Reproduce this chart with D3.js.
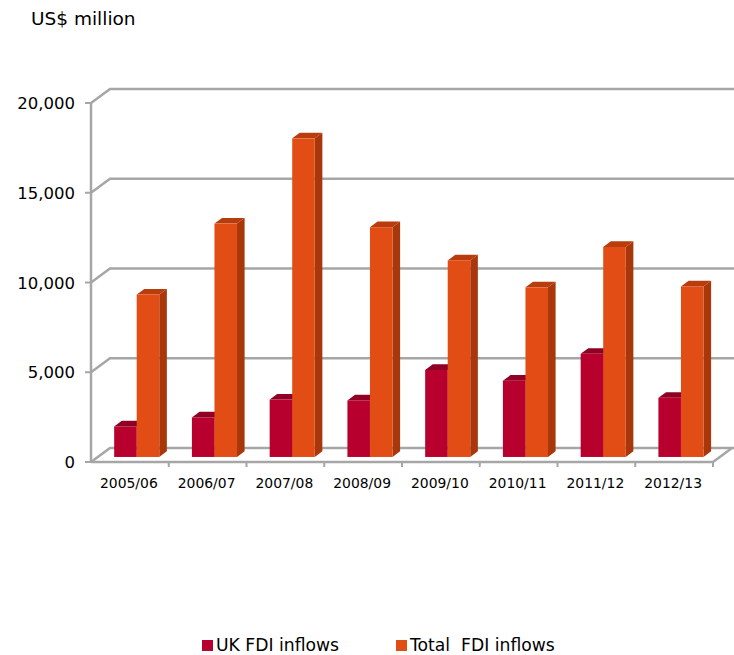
<!DOCTYPE html>
<html><head><meta charset="utf-8">
<script src="https://cdn.jsdelivr.net/npm/d3@7"></script>
<style>body{margin:0;background:#fff;} svg{display:block;}</style>
</head><body>
<svg id="chart" width="734" height="655"></svg>
<script>
const categories = ["2005/06","2006/07","2007/08","2008/09","2009/10","2010/11","2011/12","2012/13"];
const ukFDI = [1700, 2200, 3200, 3150, 4850, 4250, 5750, 3300];
const totalFDI = [9050, 13000, 17750, 12800, 10950, 9450, 11700, 9500];
const yTicks = [0, 5000, 10000, 15000, 20000];
const seriesNames = ["UK FDI inflows", "Total  FDI inflows"];
const seriesFront = ["#B8002F", "#E14D14"];
const seriesTop = ["#8F0024", "#B83C0C"];
const seriesSide = ["#7D001F", "#A8370C"];

(function () {
const svg = d3.select("#chart");
const font = "DejaVu Sans, sans-serif";
const pLeft = 91, pRight = 713, pBottom = 462, pTop = 103;
const depth = [19, -14];     // depth vector of the 3D box
const z0 = 0.36, z1 = 0.76;  // bar depth range

const x = d3.scaleBand().domain(categories).range([pLeft, pRight]).padding(0);
const y = d3.scaleLinear().domain([0, 20000]).range([pBottom, pTop]);
const xs = d3.scaleBand().domain(seriesNames).range([0, x.bandwidth() * 0.58]);

const grid = "#A6A6A6";
const g = svg.append("g");
yTicks.forEach(v => {
  const yf = y(v);
  const pts = [[pLeft, yf], [pLeft + depth[0], yf + depth[1]], [734, yf + depth[1]]];
  g.append("path").attr("d", d3.line()(pts)).attr("fill", "none")
    .attr("stroke", grid).attr("stroke-width", 2.5);
});
g.append("path").attr("d", d3.line()([[pLeft, pBottom], [pRight, pBottom], [pRight + depth[0], pBottom + depth[1]]]))
  .attr("fill", "none").attr("stroke", grid).attr("stroke-width", 2.5);
g.append("line").attr("x1", pLeft).attr("x2", pLeft).attr("y1", y(20000)).attr("y2", pBottom)
  .attr("stroke", grid).attr("stroke-width", 2.5);
yTicks.forEach(v => {
  g.append("line").attr("x1", pLeft - 6).attr("x2", pLeft).attr("y1", y(v)).attr("y2", y(v))
    .attr("stroke", grid).attr("stroke-width", 2);
});
categories.slice(1).forEach(c => {
  g.append("line").attr("x1", x(c)).attr("x2", x(c)).attr("y1", pBottom).attr("y2", pBottom + 5)
    .attr("stroke", grid).attr("stroke-width", 2);
});
g.append("line").attr("x1", pRight).attr("x2", pRight).attr("y1", pBottom).attr("y2", pBottom + 5)
  .attr("stroke", grid).attr("stroke-width", 2);

yTicks.forEach(v => {
  svg.append("text").attr("x", 75).attr("y", y(v) + 6).attr("text-anchor", "end")
    .attr("font-family", font).attr("font-size", 16.5).attr("fill", "#000")
    .text(d3.format(",")(v));
});
categories.forEach(c => {
  svg.append("text").attr("x", x(c) + x.bandwidth() / 2 - 1).attr("y", 488).attr("text-anchor", "middle")
    .attr("font-family", font).attr("font-size", 13.9).attr("fill", "#000").text(c);
});
svg.append("text").attr("x", 31).attr("y", 25).attr("font-family", font).attr("font-size", 18.5)
  .attr("fill", "#000").text("US$ million");

const dx0 = depth[0] * z0, dy0 = depth[1] * z0;
const dbx = depth[0] * (z1 - z0), dby = depth[1] * (z1 - z0);
const seriesData = [ukFDI, totalFDI];
const bars = svg.append("g");
categories.forEach((c, i) => {
  seriesNames.forEach((s, k) => {
    const v = seriesData[k][i];
    const w = xs.bandwidth();
    const bx = x(c) + x.bandwidth() / 2 - xs.range()[1] / 2 + xs(s) + dx0;
    const yt = y(v) + dy0, yb = y(0) + dy0;
    bars.append("path").attr("d", d3.line()([[bx + w, yt], [bx + w + dbx, yt + dby], [bx + w + dbx, yb + dby], [bx + w, yb]]) + "Z")
      .attr("fill", seriesSide[k]);
    bars.append("path").attr("d", d3.line()([[bx, yt], [bx + w, yt], [bx + w + dbx, yt + dby], [bx + dbx, yt + dby]]) + "Z")
      .attr("fill", seriesTop[k]);
    bars.append("rect").attr("x", bx).attr("y", yt).attr("width", w).attr("height", yb - yt)
      .attr("fill", seriesFront[k]);
  });
});

const legX = [202, 396];
seriesNames.forEach((s, k) => {
  svg.append("rect").attr("x", legX[k]).attr("y", 640).attr("width", 11).attr("height", 11).attr("fill", seriesFront[k]);
  svg.append("text").attr("x", legX[k] + 14).attr("y", 651).attr("font-family", font).attr("font-size", 17.2)
    .attr("fill", "#000").attr("xml:space", "preserve").style("white-space", "pre").text(s);
});
})();
</script>
</body></html>
